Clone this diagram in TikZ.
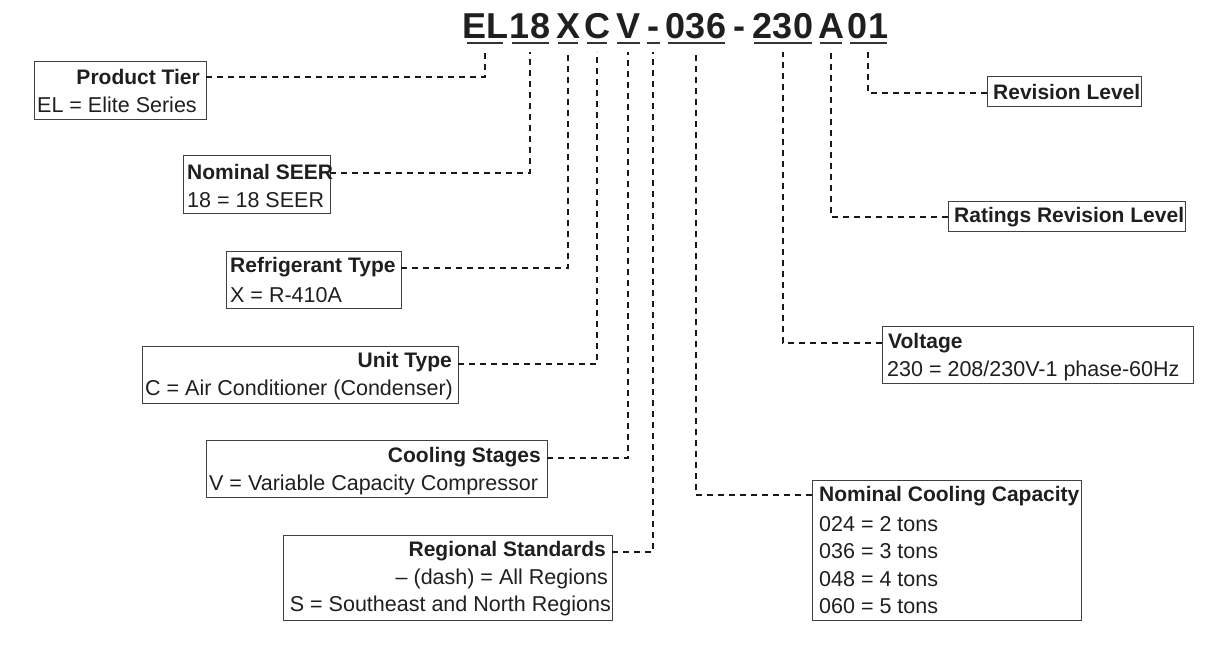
\documentclass[tikz,border=0pt]{standalone}
\usepackage{fontspec}
\setmainfont{Liberation Sans}
\begin{document}
\begin{tikzpicture}[x=1pt,y=-1pt,
  box/.style={draw=black!75,line width=0.9pt},
  t/.style={font=\fontsize{21.5}{24}\selectfont,text=black!88,inner sep=0pt},
  tb/.style={t,font=\fontsize{21}{24}\selectfont\bfseries},
  hd/.style={font=\fontsize{36}{40}\selectfont\bfseries,text=black!88,inner sep=0pt,anchor=base},
  ul/.style={line width=2pt,black!80},
  con/.style={dashed,line width=2pt,dash pattern=on 6pt off 5pt,black!90}]
\useasboundingbox (0,0) rectangle (1207,650);
% header
\foreach \nm/\txt/\cx/\a/\b in {el/EL/485/467/503, s/18/530/512/549, x/X/568/558/578, c/C/597/587/607, v/V/628/617/640, d/-/653/647/660, cap/036/696/668/725, volt/230/783/754/812, a/A/831/820/842, r/01/868/850/887}{
  \node[hd] (h\nm) at (\cx,39) {\txt};
  \draw[ul] (\a,43) -- (\b,43);
  \coordinate (u\nm) at (\cx,52);
}
\node[hd] (hd2) at (739,39) {-};
% boxes
\draw[box] (34,61) rectangle (206,119);
\node[tb,anchor=east] (pt) at (200,77) {Product Tier};
\node[t,anchor=west] at (37,105) {EL = Elite Series};
\draw[box] (183,155) rectangle (330,213);
\node[tb,anchor=west] (ns) at (187,172) {Nominal SEER};
\node[t,anchor=west] at (187,200) {18 = 18 SEER};
\draw[box] (226,251) rectangle (401,308);
\node[tb,anchor=west] (rt) at (230,267) {Refrigerant Type};
\node[t,anchor=west] at (230,295) {X = R-410A};
\draw[box] (142,346) rectangle (458,403);
\node[tb,anchor=east] (ut) at (452,362) {Unit Type};
\node[t,anchor=west] at (145,390) {C = Air Conditioner (Condenser)};
\draw[box] (206,440) rectangle (547,497);
\node[tb,anchor=east] (cs) at (541,457) {Cooling Stages};
\node[t,anchor=west] at (209,485) {V = Variable Capacity Compressor};
\draw[box] (283,535) rectangle (612,620);
\node[tb,anchor=east] (rs) at (606,551) {Regional Standards};
\node[t,anchor=east] at (608,579) {-- (dash) = All Regions};
\node[t,anchor=east] at (611,606) {S = Southeast and North Regions};
\draw[box] (812,480) rectangle (1081,620);
\node[tb,anchor=west] (nc) at (819,496) {Nominal Cooling Capacity};
\node[t,anchor=west] at (819,524) {024 = 2 tons};
\node[t,anchor=west] at (819,551) {036 = 3 tons};
\node[t,anchor=west] at (819,579) {048 = 4 tons};
\node[t,anchor=west] at (819,606) {060 = 5 tons};
\draw[box] (882,326) rectangle (1193,383);
\node[tb,anchor=west] (vo) at (888,343) {Voltage};
\node[t,anchor=west] at (887,371) {230 = 208/230V-1 phase-60Hz};
\draw[box] (948,201) rectangle (1185,231);
\node[tb,anchor=west] (rr) at (954,217) {Ratings Revision Level};
\draw[box] (987,76) rectangle (1141,106);
\node[tb,anchor=west] (rl) at (993,92) {Revision Level};
% connectors
\coordinate (kpt) at (206,77);
\coordinate (kns) at (330,173);
\coordinate (krt) at (401,268);
\coordinate (kut) at (458,364);
\coordinate (kcs) at (547,458);
\coordinate (krs) at (612,552);
\coordinate (knc) at (812,495);
\coordinate (kvo) at (882,343);
\coordinate (krr) at (948,217);
\coordinate (krl) at (987,93);
\draw[con] (kpt) -| (uel);
\draw[con] (kns) -| (us);
\draw[con] (krt) -| (ux);
\draw[con] (kut) -| (uc);
\draw[con] (kcs) -| (uv);
\draw[con] (krs) -| (ud);
\draw[con] (knc) -| (ucap);
\draw[con] (kvo) -| (uvolt);
\draw[con] (krr) -| (ua);
\draw[con] (krl) -| (ur);
\end{tikzpicture}
\end{document}
